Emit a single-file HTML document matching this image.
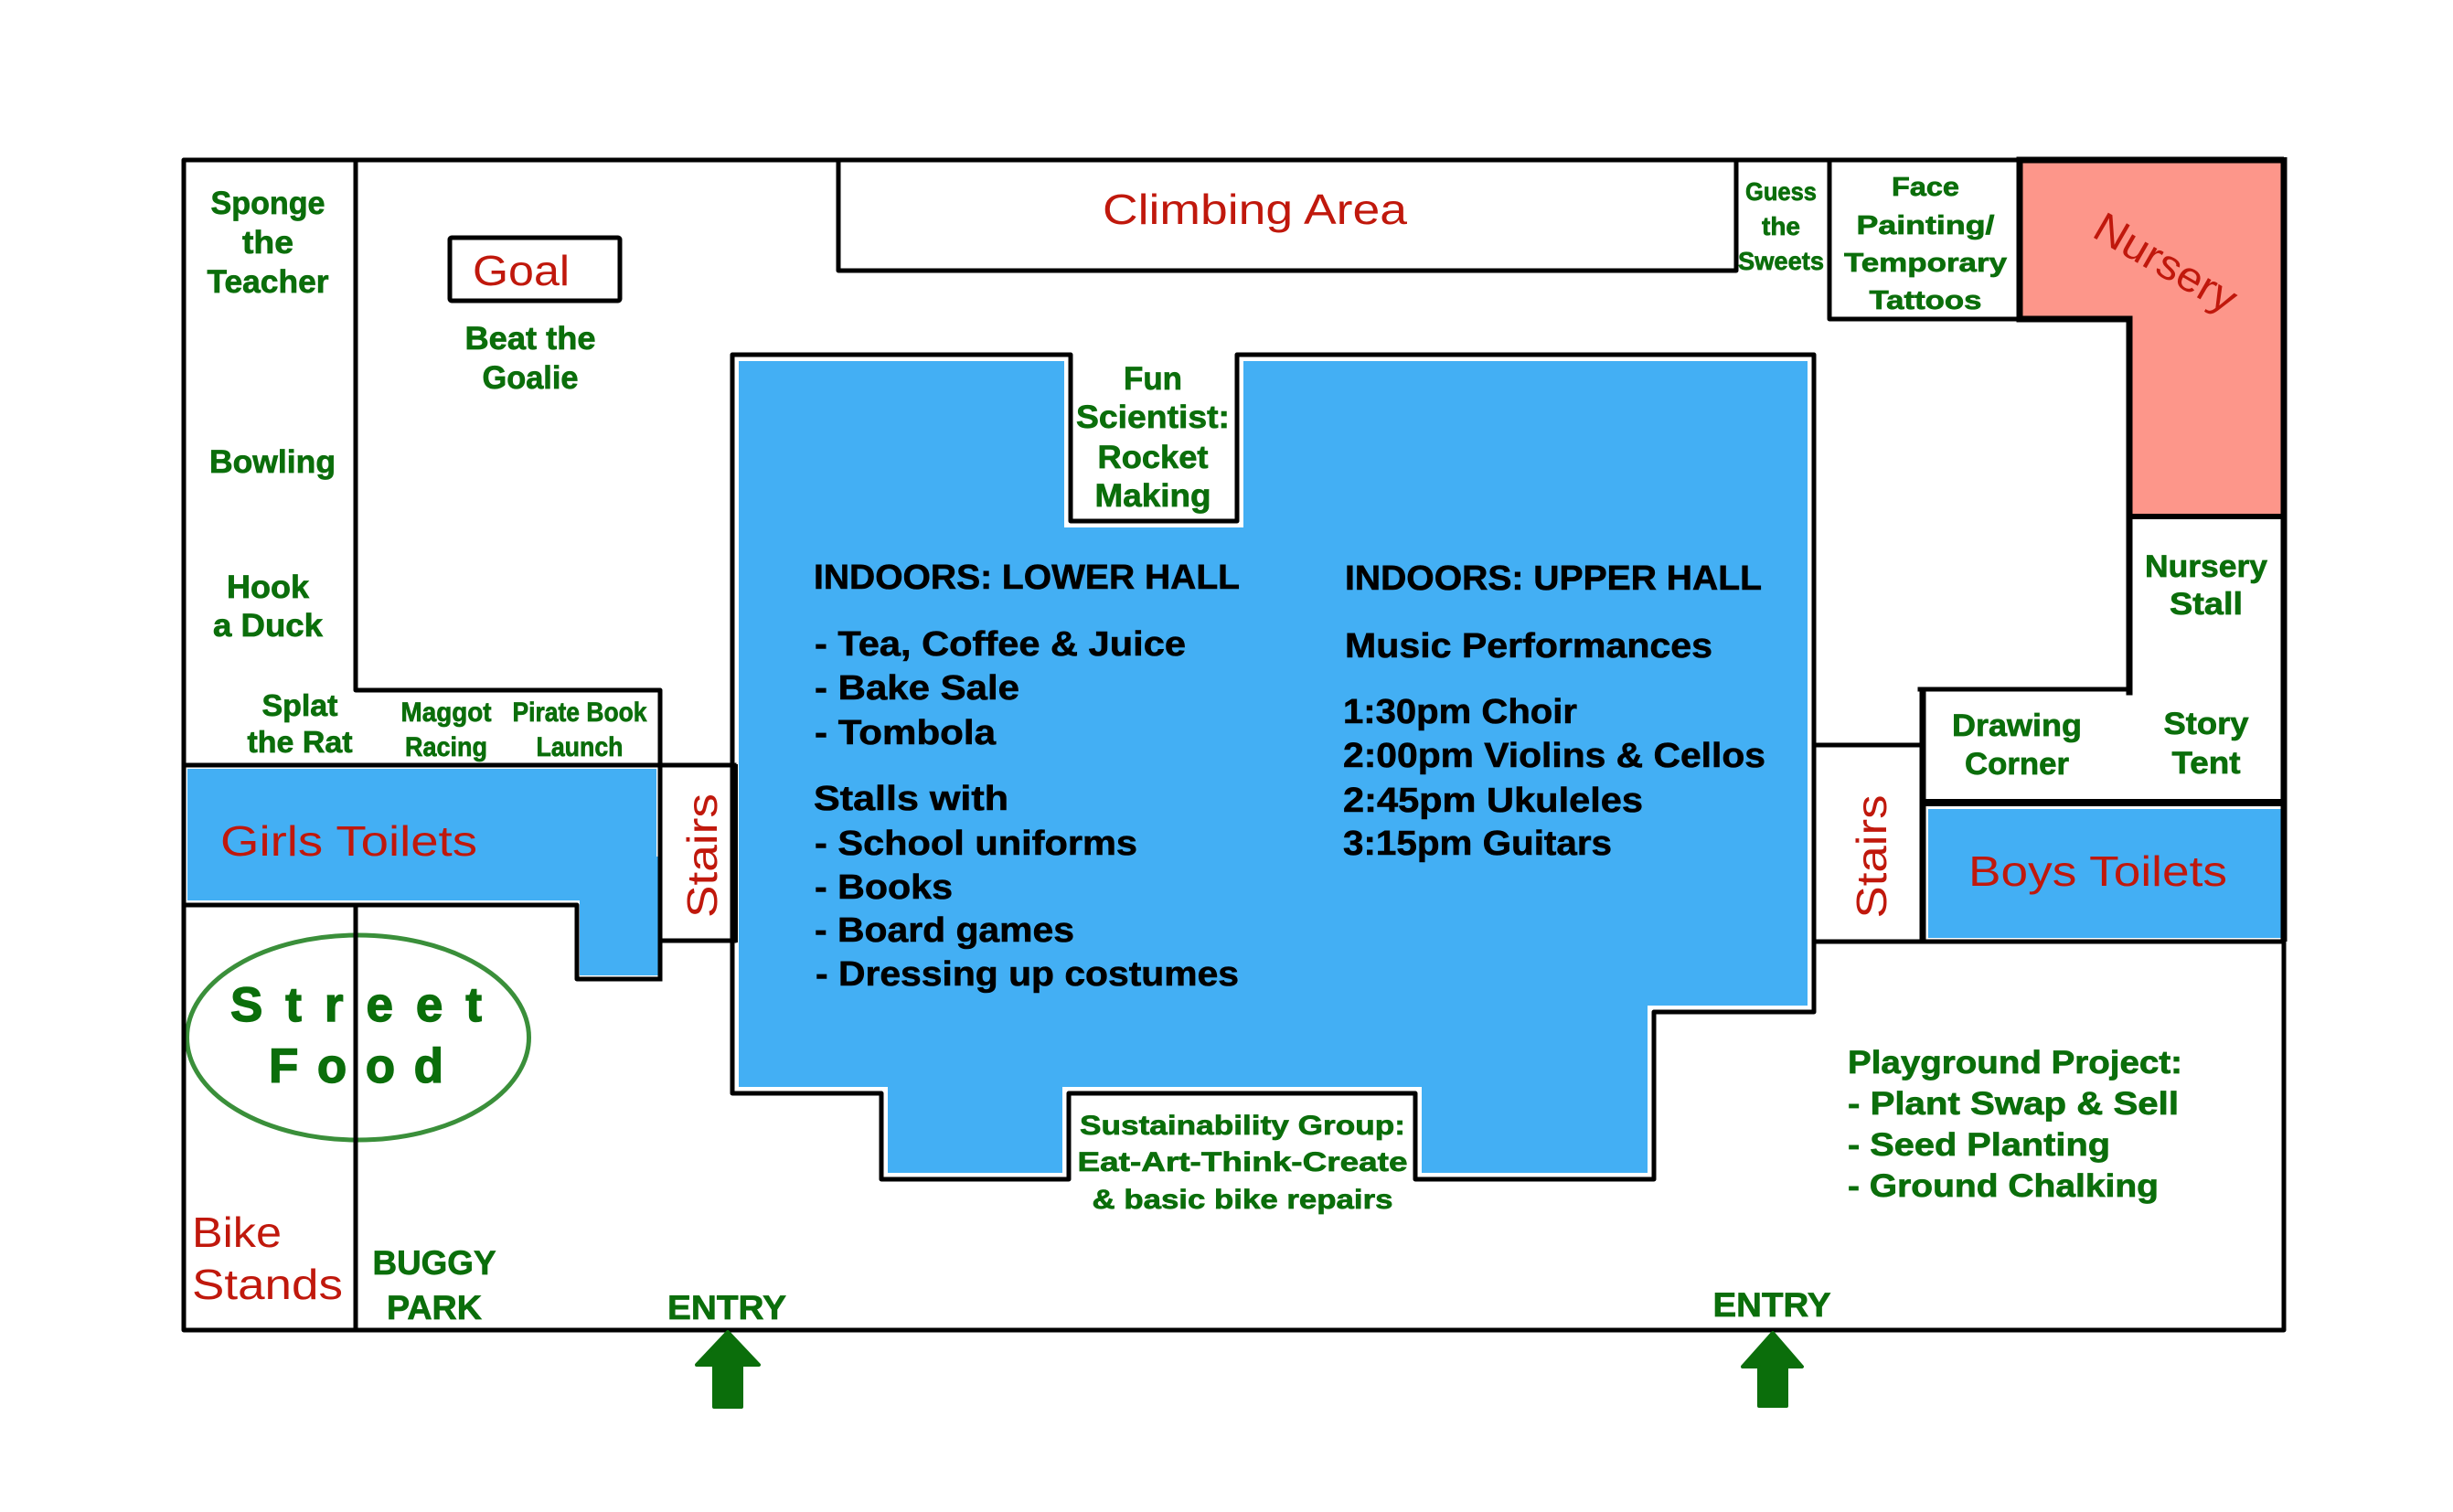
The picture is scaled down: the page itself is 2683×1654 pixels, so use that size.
<!DOCTYPE html>
<html>
<head>
<meta charset="utf-8">
<style>
  html, body { margin:0; padding:0; background:#ffffff; }
  svg { display:block; }
  .g { font-family:"Liberation Sans", sans-serif; font-weight:bold; fill:#0b6e0b; stroke:#0b6e0b; stroke-width:0.7; }
  .k { font-family:"Liberation Sans", sans-serif; font-weight:bold; fill:#000000; font-size:38px; stroke:#000; stroke-width:0.6; }
  .r { font-family:"Liberation Sans", sans-serif; font-weight:normal; fill:#c0180c; font-size:46px; }
  .ln { stroke:#000; stroke-width:5; fill:none; stroke-linecap:square; stroke-linejoin:round; }
</style>
</head>
<body>
<svg width="2683" height="1654" viewBox="0 0 2683 1654" xmlns="http://www.w3.org/2000/svg">
  <rect x="0" y="0" width="2683" height="1654" fill="#ffffff"/>

  <!-- Blue hall -->
  <polygon points="801,388 1171,388 1171,570 1353,570 1353,388 1984,388 1984,1107 1809,1107 1809,1290 1548,1290 1548,1196 1169,1196 1169,1290 964,1290 964,1196 801,1196" fill="#43aff4"/>
  <polygon points="801,388 1171,388 1171,570 1353,570 1353,388 1984,388 1984,1107 1809,1107 1809,1290 1548,1290 1548,1196 1169,1196 1169,1290 964,1290 964,1196 801,1196" fill="none" stroke="#ffffff" stroke-width="14" stroke-linejoin="miter"/>

  <!-- Girls toilets -->
  <rect x="205" y="841" width="513" height="144" fill="#43aff4"/>
  <rect x="634" y="937" width="86" height="130" fill="#43aff4"/>

  <!-- Boys toilets -->
  <rect x="2109" y="885" width="386" height="141" fill="#43aff4"/>

  <!-- Nursery -->
  <polygon points="2212,178 2496,178 2496,563 2332,563 2332,352 2212,352" fill="#fd968a"/>

  <!-- Street food ellipse -->
  <ellipse cx="391.5" cy="1135" rx="187" ry="112" fill="none" stroke="#3a8f3a" stroke-width="5"/>
  <text class="g" x="252" y="1117" font-size="53" textLength="275" lengthAdjust="spacing" style="stroke-width:1.4">Street</text>
  <text class="g" x="294" y="1184" font-size="53" textLength="191" lengthAdjust="spacing" style="stroke-width:1.4">Food</text>

  <!-- Hall outline -->
  <polygon class="ln" points="801,388 1171,388 1171,570 1353,570 1353,388 1984,388 1984,1107 1809,1107 1809,1290 1548,1290 1548,1196 1169,1196 1169,1290 964,1290 964,1196 801,1196"/>

  <!-- Outer boundary -->
  <rect class="ln" x="201" y="175" width="2297" height="1280"/>

  <!-- Left column structure -->
  <polyline class="ln" points="389,175 389,755 722,755 722,1071"/>
  <line class="ln" x1="201" y1="837" x2="803" y2="837"/>
  <polyline class="ln" points="201,990 631,990 631,1071 722,1071"/>
  <line class="ln" x1="722" y1="1029" x2="803" y2="1029"/>
  <line x1="804" y1="836" x2="804" y2="1031" stroke="#000" stroke-width="6"/>
  <line class="ln" x1="389" y1="990" x2="389" y2="1455"/>

  <!-- Goal box -->
  <rect class="ln" x="492" y="260" width="186" height="69" rx="2"/>

  <!-- Climbing area -->
  <polyline class="ln" points="917,175 917,296 1899,296 1899,175"/>

  <!-- Face painting -->
  <polyline class="ln" points="2001,175 2001,349 2207,349"/>

  <!-- Nursery outline (thicker) -->
  <polyline points="2209,175 2209,349 2329,349 2329,757" fill="none" stroke="#000" stroke-width="7" stroke-linecap="square"/>
  <line x1="2206" y1="175" x2="2498" y2="175" stroke="#000" stroke-width="7"/>
  <line x1="2498" y1="172" x2="2498" y2="1030" stroke="#000" stroke-width="7"/>
  <line x1="2329" y1="565" x2="2498" y2="565" stroke="#000" stroke-width="6"/>

  <!-- Right side stairs / drawing corner / boys -->
  <line class="ln" x1="1984" y1="815" x2="2103" y2="815"/>
  <line x1="2103" y1="754" x2="2103" y2="1030" stroke="#000" stroke-width="7"/>
  <line class="ln" x1="1984" y1="1030" x2="2498" y2="1030"/>
  <line class="ln" x1="2100" y1="754" x2="2329" y2="754"/>
  <line x1="2100" y1="878" x2="2498" y2="878" stroke="#000" stroke-width="8"/>

  <!-- Entry arrows -->
  <path d="M796,1457 L830,1493 L811,1493 L811,1539 L781,1539 L781,1493 L762,1493 Z" fill="#0b6e0b" stroke="#0b6e0b" stroke-width="4" stroke-linejoin="round"/>
  <path d="M1939,1458 L1971,1495 L1954,1495 L1954,1538 L1924,1538 L1924,1495 L1906,1495 Z" fill="#0b6e0b" stroke="#0b6e0b" stroke-width="4" stroke-linejoin="round"/>

  <!-- Red labels -->
  <text class="r" x="517" y="312" font-size="49" textLength="106" lengthAdjust="spacingAndGlyphs">Goal</text>
  <text class="r" x="1206" y="245" textLength="333" lengthAdjust="spacingAndGlyphs">Climbing Area</text>
  <text class="r" x="241" y="936" textLength="281" lengthAdjust="spacingAndGlyphs">Girls Toilets</text>
  <text class="r" x="2153" y="969" textLength="283" lengthAdjust="spacingAndGlyphs">Boys Toilets</text>
  <text class="r" x="210" y="1364" textLength="98" lengthAdjust="spacingAndGlyphs">Bike</text>
  <text class="r" x="210" y="1421" textLength="165" lengthAdjust="spacingAndGlyphs">Stands</text>
  <text class="r" transform="translate(784,936) rotate(-90)" x="0" y="0" text-anchor="middle" textLength="136" lengthAdjust="spacingAndGlyphs">Stairs</text>
  <text class="r" transform="translate(2063,937) rotate(-90)" x="0" y="0" text-anchor="middle" textLength="135" lengthAdjust="spacingAndGlyphs">Stairs</text>
  <text class="r" transform="translate(2361,301) rotate(30)" x="0" y="0" text-anchor="middle" font-size="44" textLength="172" lengthAdjust="spacingAndGlyphs">Nursery</text>

  <!-- Green labels: left column -->
  <g class="g" font-size="35" text-anchor="middle">
    <text x="293" y="234" textLength="125" lengthAdjust="spacingAndGlyphs">Sponge</text>
    <text x="293" y="277" textLength="56" lengthAdjust="spacingAndGlyphs">the</text>
    <text x="293" y="320" textLength="133" lengthAdjust="spacingAndGlyphs">Teacher</text>
    <text x="298" y="517" textLength="138" lengthAdjust="spacingAndGlyphs">Bowling</text>
    <text x="293" y="654" textLength="90" lengthAdjust="spacingAndGlyphs">Hook</text>
    <text x="293" y="696" textLength="120" lengthAdjust="spacingAndGlyphs">a Duck</text>
    <text x="580" y="382" textLength="143" lengthAdjust="spacingAndGlyphs">Beat the</text>
    <text x="580" y="425" textLength="105" lengthAdjust="spacingAndGlyphs">Goalie</text>
  </g>
  <g class="g" font-size="33" text-anchor="middle">
    <text x="328" y="783" textLength="83" lengthAdjust="spacingAndGlyphs">Splat</text>
    <text x="328" y="823" textLength="115" lengthAdjust="spacingAndGlyphs">the Rat</text>
  </g>
  <g class="g" font-size="30" text-anchor="middle">
    <text x="488" y="789" textLength="99" lengthAdjust="spacingAndGlyphs">Maggot</text>
    <text x="488" y="827" textLength="90" lengthAdjust="spacingAndGlyphs">Racing</text>
    <text x="634" y="789" textLength="147" lengthAdjust="spacingAndGlyphs">Pirate Book</text>
    <text x="634" y="827" textLength="95" lengthAdjust="spacingAndGlyphs">Launch</text>
  </g>

  <!-- Top right -->
  <g class="g" font-size="28" text-anchor="middle">
    <text x="1948" y="219" textLength="78" lengthAdjust="spacingAndGlyphs">Guess</text>
    <text x="1948" y="257" textLength="42" lengthAdjust="spacingAndGlyphs">the</text>
    <text x="1948" y="295" textLength="94" lengthAdjust="spacingAndGlyphs">Sweets</text>
  </g>
  <g class="g" font-size="29" text-anchor="middle">
    <text x="2106" y="214" textLength="74" lengthAdjust="spacingAndGlyphs">Face</text>
    <text x="2106" y="256" textLength="151" lengthAdjust="spacingAndGlyphs">Painting/</text>
    <text x="2106" y="297" textLength="178" lengthAdjust="spacingAndGlyphs">Temporary</text>
    <text x="2106" y="338" textLength="123" lengthAdjust="spacingAndGlyphs">Tattoos</text>
  </g>

  <!-- Fun scientist -->
  <g class="g" font-size="35" text-anchor="middle">
    <text x="1261" y="426" textLength="64" lengthAdjust="spacingAndGlyphs">Fun</text>
    <text x="1261" y="468" textLength="168" lengthAdjust="spacingAndGlyphs">Scientist:</text>
    <text x="1261" y="512" textLength="121" lengthAdjust="spacingAndGlyphs">Rocket</text>
    <text x="1261" y="554" textLength="127" lengthAdjust="spacingAndGlyphs">Making</text>
  </g>

  <!-- Right column labels -->
  <g class="g" font-size="34" text-anchor="middle">
    <text x="2413" y="631" textLength="134" lengthAdjust="spacingAndGlyphs">Nursery</text>
    <text x="2413" y="672" textLength="80" lengthAdjust="spacingAndGlyphs">Stall</text>
    <text x="2206" y="805" textLength="142" lengthAdjust="spacingAndGlyphs">Drawing</text>
    <text x="2206" y="847" textLength="114" lengthAdjust="spacingAndGlyphs">Corner</text>
    <text x="2413" y="803" textLength="93" lengthAdjust="spacingAndGlyphs">Story</text>
    <text x="2413" y="846" textLength="75" lengthAdjust="spacingAndGlyphs">Tent</text>
  </g>

  <!-- Sustainability -->
  <g class="g" font-size="30" text-anchor="middle">
    <text x="1359" y="1241" textLength="356" lengthAdjust="spacingAndGlyphs">Sustainability Group:</text>
    <text x="1359" y="1281" textLength="361" lengthAdjust="spacingAndGlyphs">Eat-Art-Think-Create</text>
    <text x="1359" y="1322" textLength="329" lengthAdjust="spacingAndGlyphs">&amp; basic bike repairs</text>
  </g>

  <!-- Playground project -->
  <g class="g" font-size="35">
    <text x="2021" y="1174" textLength="366" lengthAdjust="spacingAndGlyphs">Playground Project:</text>
    <text x="2021" y="1219" textLength="362" lengthAdjust="spacingAndGlyphs">- Plant Swap &amp; Sell</text>
    <text x="2021" y="1264" textLength="287" lengthAdjust="spacingAndGlyphs">- Seed Planting</text>
    <text x="2021" y="1309" textLength="340" lengthAdjust="spacingAndGlyphs">- Ground Chalking</text>
  </g>

  <!-- Bottom labels -->
  <g class="g" font-size="37" text-anchor="middle">
    <text x="475" y="1394" textLength="135" lengthAdjust="spacingAndGlyphs">BUGGY</text>
    <text x="475" y="1443" textLength="104" lengthAdjust="spacingAndGlyphs">PARK</text>
    <text x="795" y="1443" textLength="130" lengthAdjust="spacingAndGlyphs">ENTRY</text>
    <text x="1938" y="1440" textLength="129" lengthAdjust="spacingAndGlyphs">ENTRY</text>
  </g>

  <!-- Hall text: lower -->
  <text class="k" x="890" y="644" textLength="466" lengthAdjust="spacingAndGlyphs">INDOORS: LOWER HALL</text>
  <text class="k" x="891" y="717" textLength="406" lengthAdjust="spacingAndGlyphs">- Tea, Coffee &amp; Juice</text>
  <text class="k" x="891" y="765" textLength="224" lengthAdjust="spacingAndGlyphs">- Bake Sale</text>
  <text class="k" x="891" y="814" textLength="198" lengthAdjust="spacingAndGlyphs">- Tombola</text>
  <text class="k" x="890" y="886" textLength="213" lengthAdjust="spacingAndGlyphs">Stalls with</text>
  <text class="k" x="891" y="935" textLength="353" lengthAdjust="spacingAndGlyphs">- School uniforms</text>
  <text class="k" x="891" y="983" textLength="151" lengthAdjust="spacingAndGlyphs">- Books</text>
  <text class="k" x="891" y="1030" textLength="284" lengthAdjust="spacingAndGlyphs">- Board games</text>
  <text class="k" x="892" y="1078" textLength="463" lengthAdjust="spacingAndGlyphs">- Dressing up costumes</text>

  <!-- Hall text: upper -->
  <text class="k" x="1471" y="645" textLength="456" lengthAdjust="spacingAndGlyphs">INDOORS: UPPER HALL</text>
  <text class="k" x="1471" y="719" textLength="402" lengthAdjust="spacingAndGlyphs">Music Performances</text>
  <text class="k" x="1469" y="791" textLength="256" lengthAdjust="spacingAndGlyphs">1:30pm Choir</text>
  <text class="k" x="1469" y="839" textLength="462" lengthAdjust="spacingAndGlyphs">2:00pm Violins &amp; Cellos</text>
  <text class="k" x="1469" y="888" textLength="328" lengthAdjust="spacingAndGlyphs">2:45pm Ukuleles</text>
  <text class="k" x="1469" y="935" textLength="294" lengthAdjust="spacingAndGlyphs">3:15pm Guitars</text>
</svg>
</body>
</html>
